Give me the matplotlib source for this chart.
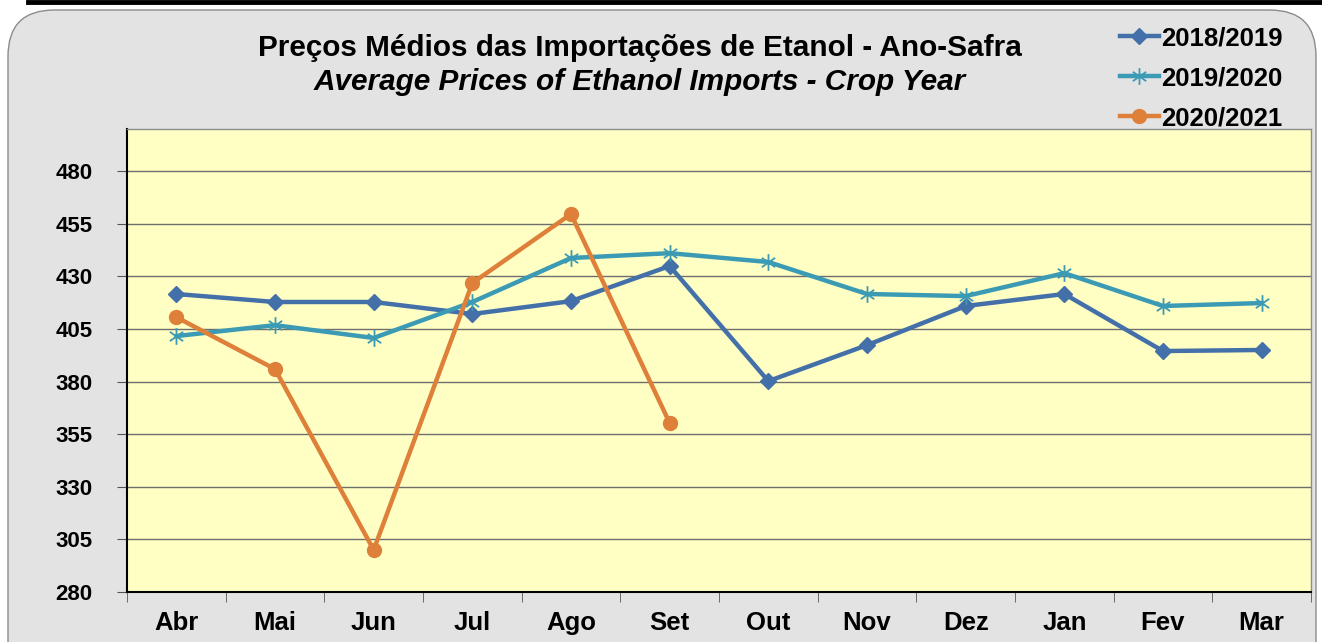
import matplotlib.pyplot as plt
from matplotlib.patches import FancyBboxPatch
from matplotlib.lines import Line2D
from matplotlib.path import Path
import numpy as np

plt.rcParams["font.family"] = ["Liberation Sans", "DejaVu Sans"]

months = ["Abr", "Mai", "Jun", "Jul", "Ago", "Set", "Out", "Nov", "Dez", "Jan", "Fev", "Mar"]
s2018 = [421.6, 417.8, 417.8, 412.1, 418.2, 434.9, 380.2, 397.3, 415.9, 421.6, 394.5, 395.0]
s2019 = [401.6, 406.8, 400.7, 417.8, 438.7, 441.0, 436.8, 421.6, 420.6, 431.5, 415.9, 417.3]
s2020 = [410.6, 385.9, 300.0, 426.8, 459.6, 360.3]
yticks = list(range(280, 481, 25))

C2018 = "#4470A9"
C2019 = "#3B9AB4"
C2020 = "#DE7F3A"

# Excel-like star marker: vertical stroke plus two diagonals
_d = 0.8
STAR = Path([(0, -1), (0, 1), (-_d, -_d * 0.7), (_d, _d * 0.7), (-_d, _d * 0.7), (_d, -_d * 0.7)],
            [Path.MOVETO, Path.LINETO] * 3)

fig = plt.figure(figsize=(13.22, 6.42), dpi=100)
fig.patch.set_facecolor("white")

# rounded grey panel and the black top edge of the outer frame
panel = FancyBboxPatch((8 / 1322, -0.2), 1308 / 1322, 1.2 - 10 / 642,
                       boxstyle="round,pad=0,rounding_size=0.035",
                       transform=fig.transFigure, facecolor="#E3E3E3",
                       edgecolor="#8C8C8C", lw=1.0, mutation_aspect=2.06, zorder=-10)
fig.patches.append(panel)
fig.add_artist(Line2D([28 / 1322, 1.0], [1 - 2 / 642, 1 - 2 / 642],
                      transform=fig.transFigure, color="black", lw=3.5))

ax = fig.add_axes([127 / 1322, 50 / 642, 1184 / 1322, 463 / 642])
ax.set_facecolor("#FFFFC4")
x = np.arange(len(months))

ax.plot(x, s2018, color=C2018, lw=3.2, marker="D", ms=8, zorder=3)
ax.plot(x, s2019, color=C2019, lw=3.2, marker=STAR, ms=12, mew=1.3, zorder=3)
ax.plot(x[:len(s2020)], s2020, color=C2020, lw=3.2, marker="o", ms=10, zorder=4)

ax.set_xlim(-0.5, len(months) - 0.5)
ax.set_ylim(280, 500)
ax.set_yticks(yticks)
ax.set_yticklabels([str(v) for v in yticks], fontsize=16, fontweight="bold")
ax.set_xticks(x)
ax.set_xticklabels(months, fontsize=18.5, fontweight="bold")
ax.set_xticks(np.arange(-0.5, len(months)), minor=True)
ax.tick_params(axis="x", which="major", length=0, pad=14)
ax.tick_params(axis="x", which="minor", length=7, direction="out", color="#555555")
ax.tick_params(axis="y", length=7, direction="out", pad=18, color="#555555")
ax.grid(axis="y", color="#6E6E6E", lw=1.0)
ax.set_axisbelow(True)
for side in ["left", "bottom"]:
    ax.spines[side].set_color("black")
    ax.spines[side].set_linewidth(1.5)
for side in ["top", "right"]:
    ax.spines[side].set_color("#8C8C8C")
    ax.spines[side].set_linewidth(1.0)

fig.text(0.484, 1 - 48 / 642, "Preços Médios das Importações de Etanol - Ano-Safra",
         ha="center", va="center", fontsize=21.4, fontweight="bold")
fig.text(0.484, 1 - 82 / 642, "Average Prices of Ethanol Imports - Crop Year",
         ha="center", va="center", fontsize=21.4, fontweight="bold", style="italic")

handles = [
    Line2D([], [], color=C2018, lw=3.2, marker="D", ms=8),
    Line2D([], [], color=C2019, lw=3.2, marker=STAR, ms=12, mew=1.3),
    Line2D([], [], color=C2020, lw=3.2, marker="o", ms=10),
]
fig.legend(handles, ["2018/2019", "2019/2020", "2020/2021"],
           loc="upper left", bbox_to_anchor=(1120 / 1322, 1 - 26 / 642),
           frameon=False, prop={"size": 18.5, "weight": "bold"},
           handlelength=1.5, handletextpad=0.1, labelspacing=0.63,
           borderaxespad=0, borderpad=0)

fig.savefig("out.png", dpi=100)
